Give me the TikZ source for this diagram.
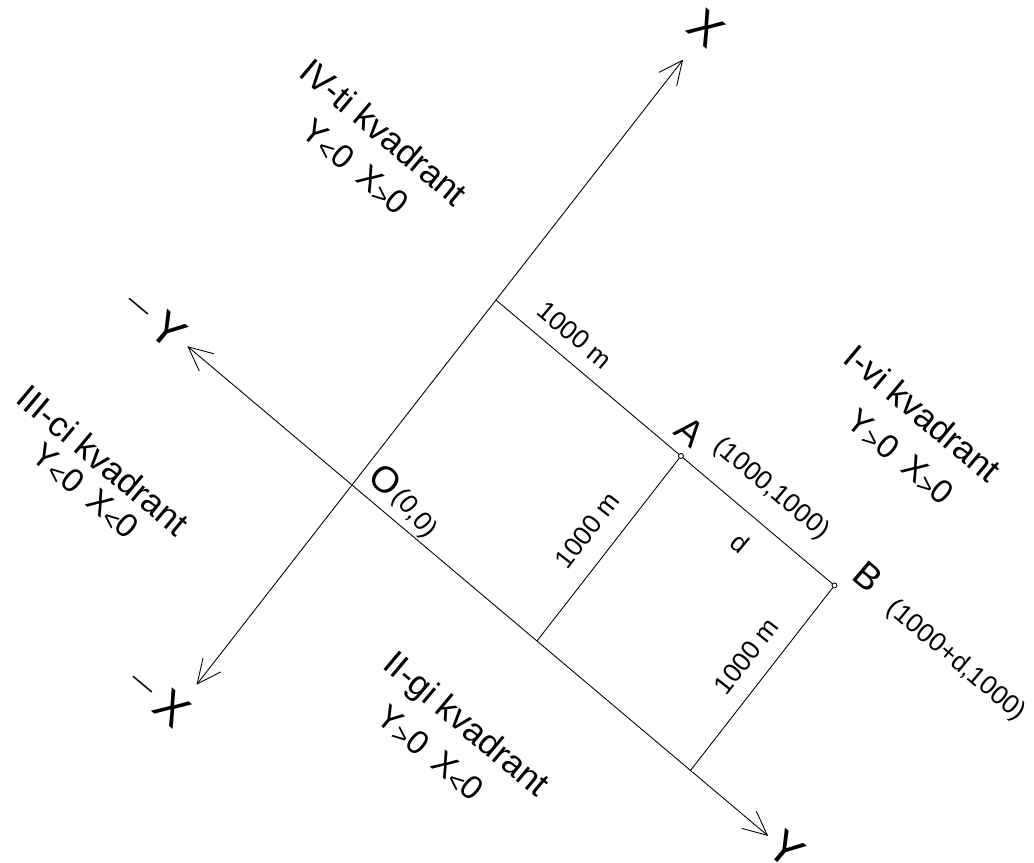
\documentclass[tikz,border=0pt]{standalone}
\usepackage{fontspec}
\setmainfont{Liberation Sans}
\usepackage{tikz}
\usetikzlibrary{arrows.meta}

\tikzset{
    axis/.style={{Straight Barb[length=0.48cm,width=0.45cm]}-{Straight Barb[length=0.48cm,width=0.45cm]}},
    pt/.style={circle, draw, inner sep=0pt, minimum size=0.1cm},
    big/.style={font=\fontsize{26}{28}\selectfont, rotate=-40},
    pname/.style={font=\fontsize{21}{23}\selectfont, rotate=-40},
    small/.style={font=\fontsize{15}{17}\selectfont, rotate=-40},
    quad/.style={font=\fontsize{20}{22}\selectfont, rotate=-40},
    cond/.style={font=\fontsize{19}{21}\selectfont, rotate=-40},
}
\newcommand{\relsign}[1]{\raisebox{-1.5pt}{\fontsize{15}{15}\selectfont#1}}
\newcommand{\minusmark}{\raisebox{4.8pt}{\fontsize{14}{14}\selectfont\textemdash}\hspace{6pt}}

\begin{document}
\begin{tikzpicture}[x=0.02cm, y=-0.02cm, line width=0.5pt]
    \useasboundingbox (0,0) rectangle (1034,862);

    % x along the Y axis, y along the X axis, 1 = 1000 m
    \begin{scope}[shift={(352,485)}, x={(3.70cm,-3.12cm)}, y={(2.88cm,3.70cm)}]
        \coordinate (O) at (0,0);
        \coordinate (Xp) at (0,2.3);
        \coordinate (Xm) at (0,-1.08);
        \coordinate (Yp) at (2.25,0);
        \coordinate (Ym) at (-0.89,0);
        \coordinate (P) at (0,1);
        \coordinate (F) at (1,0);
        \coordinate (G) at (1.83,0);
        \node[pt] (A) at (1,1) {};
        \node[pt] (B) at (1.83,1) {};
    \end{scope}

    % axes
    \draw[axis] (Xm) -- (Xp);
    \draw[axis] (Ym) -- (Yp);

    % X = 1000 -> A -> B
    \draw (P) -- (A) -- (B);
    % A, B -> Y axis
    \draw (A) -- (F);
    \draw (B) -- (G);

    % axis names
    \node[big] (lX) at (706,28) {X};
    \node[big] (lY) at (786,849) {Y};
    \node[big] (lXm) at (159,697) {\minusmark X};
    \node[big] (lYm) at (155,319) {\minusmark Y};

    % points
    \node[pname] (lO) at (386,480) {O};
    \node[small, rotate=-10] (lOc) at (414,514) {(0,0)};
    \node[pname] (lA) at (690,432) {A};
    \node[small] (lAc) at (771,489) {(1000,1000)};
    \node[pname] (lB) at (868,577) {B};
    \node[small] (lBc) at (956,661) {(1000+d,1000)};
    \node[small] (ld) at (740,543) {d};

    % distances
    \node[small] (m1) at (575,335) {1000 m};
    \node[small, rotate=92] (m2) at (587,530) {1000 m};
    \node[small, rotate=92] (m3) at (746,656) {1000 m};

    % quadrants
    \node[quad] (q1) at (923,413) {I-vi kvadrant};
    \node[cond] (c1) at (900,458) {Y\relsign{>}0\hspace{0.45em}X\relsign{>}0};
    \node[quad] (q2) at (465,726) {II-gi kvadrant};
    \node[cond] (c2) at (430,754) {Y\relsign{>}0\hspace{0.45em}X\relsign{<}0};
    \node[quad] (q3) at (103,460) {III-ci kvadrant};
    \node[cond] (c3) at (85,492) {Y\relsign{<}0\hspace{0.45em}X\relsign{<}0};
    \node[quad] (q4) at (384,132) {IV-ti kvadrant};
    \node[cond] (c4) at (355,168) {Y\relsign{<}0\hspace{0.45em}X\relsign{>}0};
\end{tikzpicture}
\end{document}
